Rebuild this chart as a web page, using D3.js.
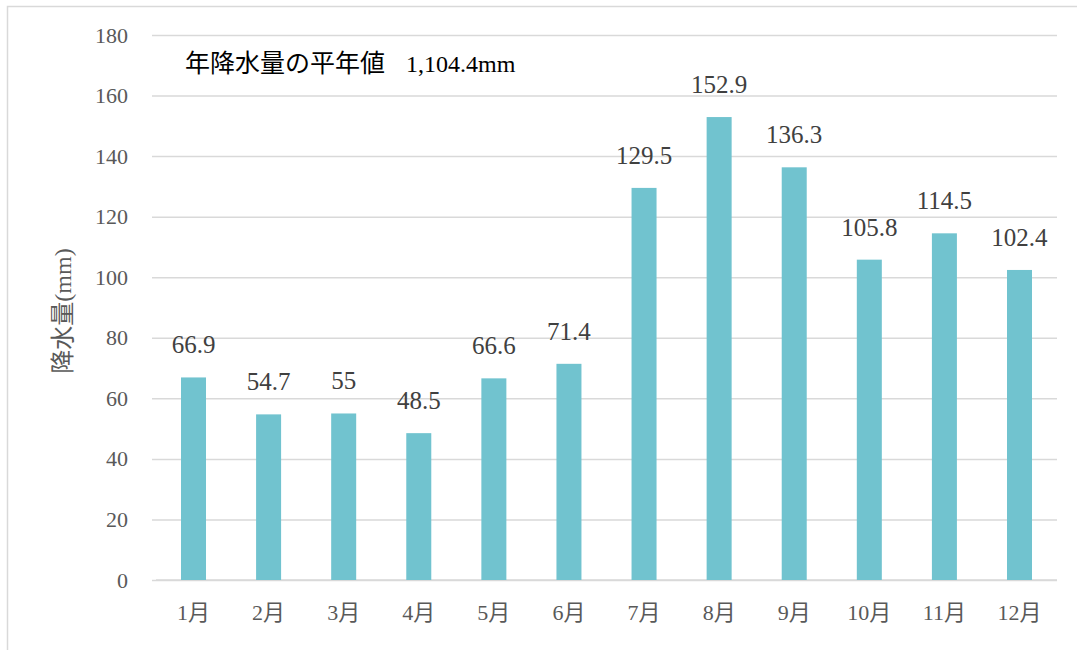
<!DOCTYPE html>
<html lang="ja">
<head>
<meta charset="utf-8">
<title>月別降水量</title>
<script src="https://d3js.org/d3.v7.min.js"></script>
<style>
  body { margin: 0; background: #fff; }
  text { font-family: "Liberation Serif", "Noto Sans CJK JP", serif; }
</style>
</head>
<body>
<script>
const months = ['1月','2月','3月','4月','5月','6月','7月','8月','9月','10月','11月','12月'];
const rain = [66.9, 54.7, 55, 48.5, 66.6, 71.4, 129.5, 152.9, 136.3, 105.8, 114.5, 102.4];
const yTicks = [0, 20, 40, 60, 80, 100, 120, 140, 160, 180];
const noteLabel = '年降水量の平年値';
const noteValue = '1,104.4mm';

const w = 1077, h = 650;
const padL = 156, padR = 1057, padT = 35, padB = 580;

const svg = d3.select('body').append('svg')
    .attr('width', w)
    .attr('height', h);

// outer frame
svg.append('rect')
   .attr('x', 7.5).attr('y', 6.5)
   .attr('width', w).attr('height', h)
   .attr('fill', 'none')
   .attr('stroke', '#d9d9d9')
   .attr('stroke-width', 1.5);

const x = d3.scaleBand()
    .domain(months)
    .range([padL, padR])
    .paddingInner(0.667)
    .paddingOuter(0.333);

const y = d3.scaleLinear()
    .domain([0, 180])
    .range([padB, padT]);

// gridlines + y labels
const yAxis = d3.axisLeft(y)
    .tickValues(yTicks)
    .tickSize(-(padR - 152))
    .tickPadding(24);
const gy = svg.append('g')
    .attr('transform', 'translate(152,0)')
    .call(yAxis);
gy.select('.domain').remove();
gy.selectAll('.tick line').attr('stroke', '#d9d9d9').attr('stroke-width', 1.5);
gy.selectAll('.tick text')
  .attr('fill', '#595959')
  .attr('font-size', 22)
  .style('font-family', '"Liberation Serif", serif');

// x axis
const xAxis = d3.axisBottom(x).tickSize(0).tickPadding(24);
const gx = svg.append('g')
    .attr('transform', `translate(0,${padB})`)
    .call(xAxis);
gx.select('.domain').attr('stroke', '#d9d9d9').attr('stroke-width', 1.5)
  .attr('d', `M${padL},0H${padR}`);
gx.selectAll('.tick text')
  .attr('fill', '#595959')
  .attr('font-size', 22)
  .style('font-family', '"Liberation Serif", "Noto Sans CJK JP", serif');

// bars
svg.selectAll('rect.bar')
   .data(rain)
   .enter()
   .append('rect')
   .attr('class', 'bar')
   .attr('x', (d, i) => x(months[i]))
   .attr('y', d => y(d))
   .attr('width', x.bandwidth())
   .attr('height', d => y(0) - y(d))
   .attr('fill', '#71c3cf');

// data labels
svg.selectAll('text.lbl')
   .data(rain)
   .enter()
   .append('text')
   .attr('class', 'lbl')
   .attr('x', (d, i) => x(months[i]) + x.bandwidth() / 2)
   .attr('y', d => y(d) - 24)
   .attr('text-anchor', 'middle')
   .attr('font-size', 25)
   .attr('fill', '#404040')
   .text(d => d);

// y title
svg.append('text')
   .attr('transform', 'translate(71,311) rotate(-90)')
   .attr('text-anchor', 'middle')
   .attr('font-size', 24)
   .attr('fill', '#595959')
   .text('降水量(mm)');

// annotation
const note = svg.append('text')
   .attr('x', 185)
   .attr('y', 72)
   .attr('font-size', 24)
   .attr('fill', '#000');
note.append('tspan').attr('font-size', 25).text(noteLabel);
note.append('tspan').attr('x', 406).text(noteValue);
</script>
</body>
</html>
